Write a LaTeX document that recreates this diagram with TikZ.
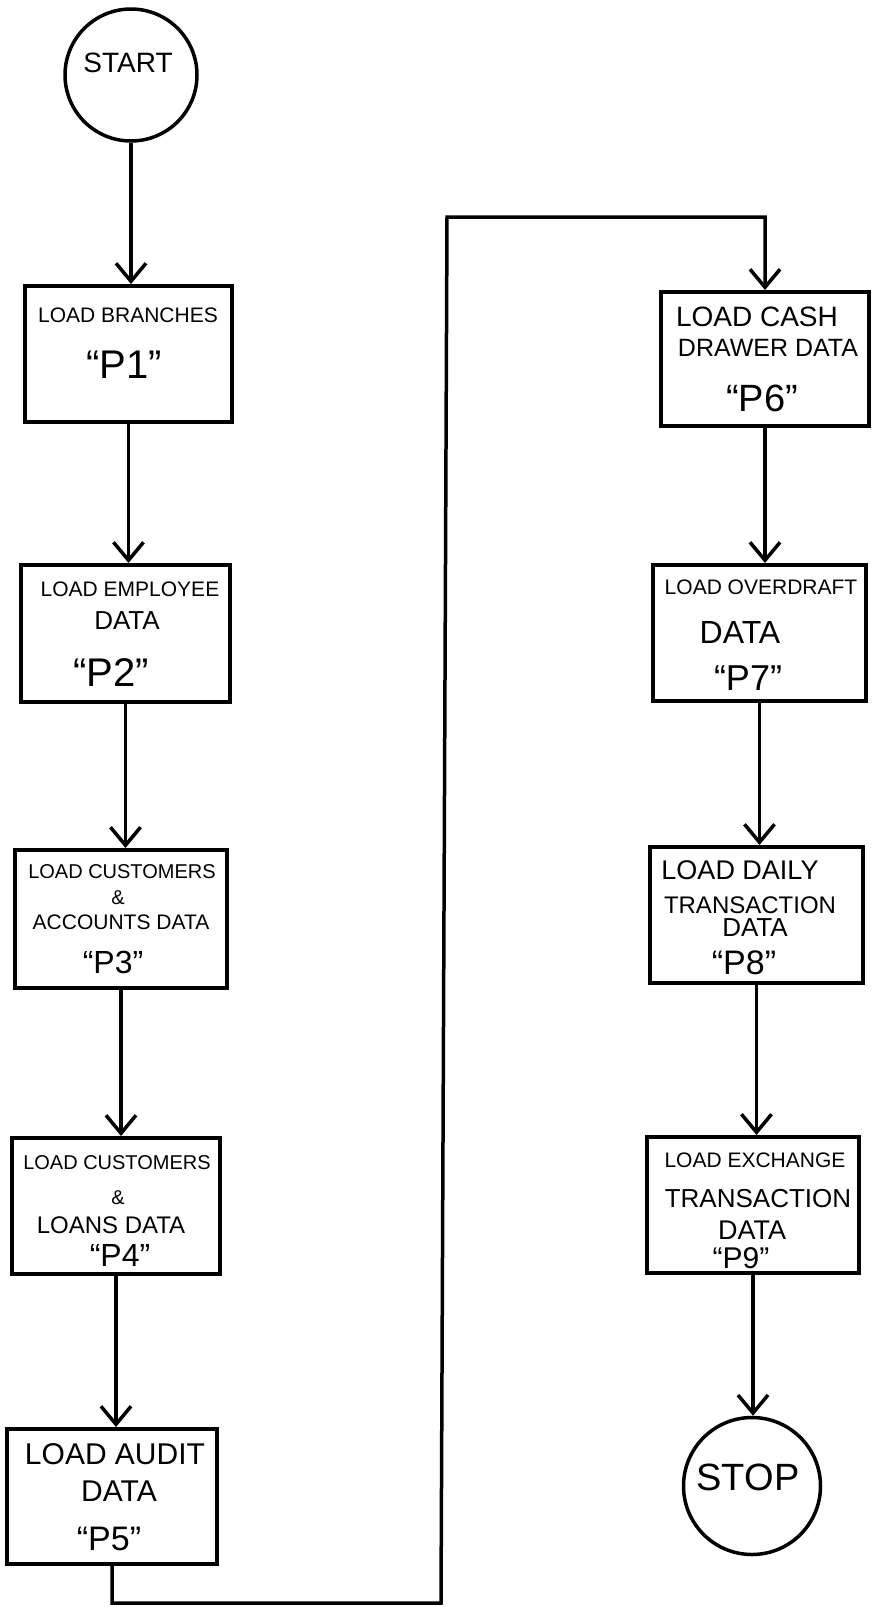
\documentclass[tikz,border=0pt]{standalone}
\usepackage{fontspec}
\setmainfont{Liberation Sans}
\usetikzlibrary{arrows.meta}
\newcommand{\fs}[1]{\fontsize{#1}{#1}\selectfont}
\begin{document}
\begin{tikzpicture}[x=1pt,y=-1pt,
  box/.style={draw, line width=4pt, rectangle, inner sep=0pt},
  term/.style={draw, line width=3.5pt, circle, inner sep=0pt},
  flow/.style={line width=3.5pt, line join=miter, -{Straight Barb[length=18pt,width=30pt]}},
  txt/.style={inner sep=0pt},
]
\useasboundingbox (0,0) rectangle (871,1607);

% terminals
\node[term, minimum size=132pt] (start) at (131,75) {};
\node[txt, font=\fs{28}] (startt) at (128,63) {START};
\node[term, minimum size=137pt] (stop) at (752,1486) {};
\node[txt, font=\fs{38}] (stopt) at (748,1477) {STOP};

% left column boxes
\node[box, minimum width=207pt, minimum height=136pt] (p1) at (128.5,354) {};
\node[txt, font=\fs{21}] (p1a) at (128,315) {LOAD BRANCHES};
\node[txt, font=\fs{40}] (p1b) at (124,365) {``P1''};

\node[box, minimum width=209pt, minimum height=137pt] (p2) at (125.5,633.5) {};
\node[txt, font=\fs{21}] (p2a) at (130,589) {LOAD EMPLOYEE};
\node[txt, font=\fs{26}] (p2b) at (127,621) {DATA};
\node[txt, font=\fs{40}] (p2c) at (111,673) {``P2''};

\node[box, minimum width=212pt, minimum height=138pt] (p3) at (121,919) {};
\node[txt, font=\fs{20}] (p3a) at (122,872) {LOAD CUSTOMERS};
\node[txt, font=\fs{20}] (p3b) at (118,898) {\&};
\node[txt, font=\fs{21}] (p3c) at (121,922) {ACCOUNTS DATA};
\node[txt, font=\fs{32}] (p3d) at (113,962) {``P3''};

\node[box, minimum width=208pt, minimum height=136pt] (p4) at (116,1206) {};
\node[txt, font=\fs{20}] (p4a) at (117,1163) {LOAD CUSTOMERS};
\node[txt, font=\fs{20}] (p4b) at (118,1198) {\&};
\node[txt, font=\fs{24}] (p4c) at (111,1225) {LOANS DATA};
\node[txt, font=\fs{32}] (p4d) at (120,1255) {``P4''};

\node[box, minimum width=210pt, minimum height=135pt] (p5) at (112,1496.5) {};
\node[txt, font=\fs{30}] (p5a) at (115,1454) {LOAD AUDIT};
\node[txt, font=\fs{30}] (p5b) at (119,1491) {DATA};
\node[txt, font=\fs{34}] (p5c) at (109,1539) {``P5''};

% right column boxes
\node[box, minimum width=208pt, minimum height=134pt] (p6) at (765,359) {};
\node[txt, font=\fs{28}] (p6a) at (757,317) {LOAD CASH};
\node[txt, font=\fs{25}] (p6b) at (768,348) {DRAWER DATA};
\node[txt, font=\fs{38}] (p6c) at (762,398) {``P6''};

\node[box, minimum width=213pt, minimum height=136pt] (p7) at (759.5,633) {};
\node[txt, font=\fs{21}] (p7a) at (761,587) {LOAD OVERDRAFT};
\node[txt, font=\fs{32}] (p7b) at (740,632) {DATA};
\node[txt, font=\fs{36}] (p7c) at (748,678) {``P7''};

\node[box, minimum width=213pt, minimum height=136pt] (p8) at (756.5,915) {};
\node[txt, font=\fs{27}] (p8a) at (740,870) {LOAD DAILY};
\node[txt, font=\fs{24}] (p8b) at (750,905) {TRANSACTION};
\node[txt, font=\fs{26}] (p8c) at (755,928) {DATA};
\node[txt, font=\fs{34}] (p8d) at (744,963) {``P8''};

\node[box, minimum width=212pt, minimum height=136pt] (p9) at (753,1205) {};
\node[txt, font=\fs{21}] (p9a) at (755,1160) {LOAD EXCHANGE};
\node[txt, font=\fs{26}] (p9b) at (758,1199) {TRANSACTION};
\node[txt, font=\fs{27}] (p9c) at (752,1230) {DATA};
\node[txt, font=\fs{30}] (p9d) at (741,1258) {``P9''};

% connectors
\draw[flow] (start) -- (start |- p1.north);
\draw[flow] (p1) -- (p1 |- p2.north);
\draw[flow] (p2) -- (p2 |- p3.north);
\draw[flow] (p3) -- (p3 |- p4.north);
\draw[flow] (p4) -- (p4 |- p5.north);

\coordinate (c1) at (441,1603);
\coordinate (c2) at (447,217);
\draw[flow] (p5.south) |- (c1) -- (c2) -| (p6.north);

\draw[flow] (p6) -- (p6 |- p7.north);
\draw[flow] (p7) -- (p7 |- p8.north);
\draw[flow] (p8) -- (p8 |- p9.north);
\draw[flow] (p9) -- (p9 |- stop.north);
\end{tikzpicture}
\end{document}
